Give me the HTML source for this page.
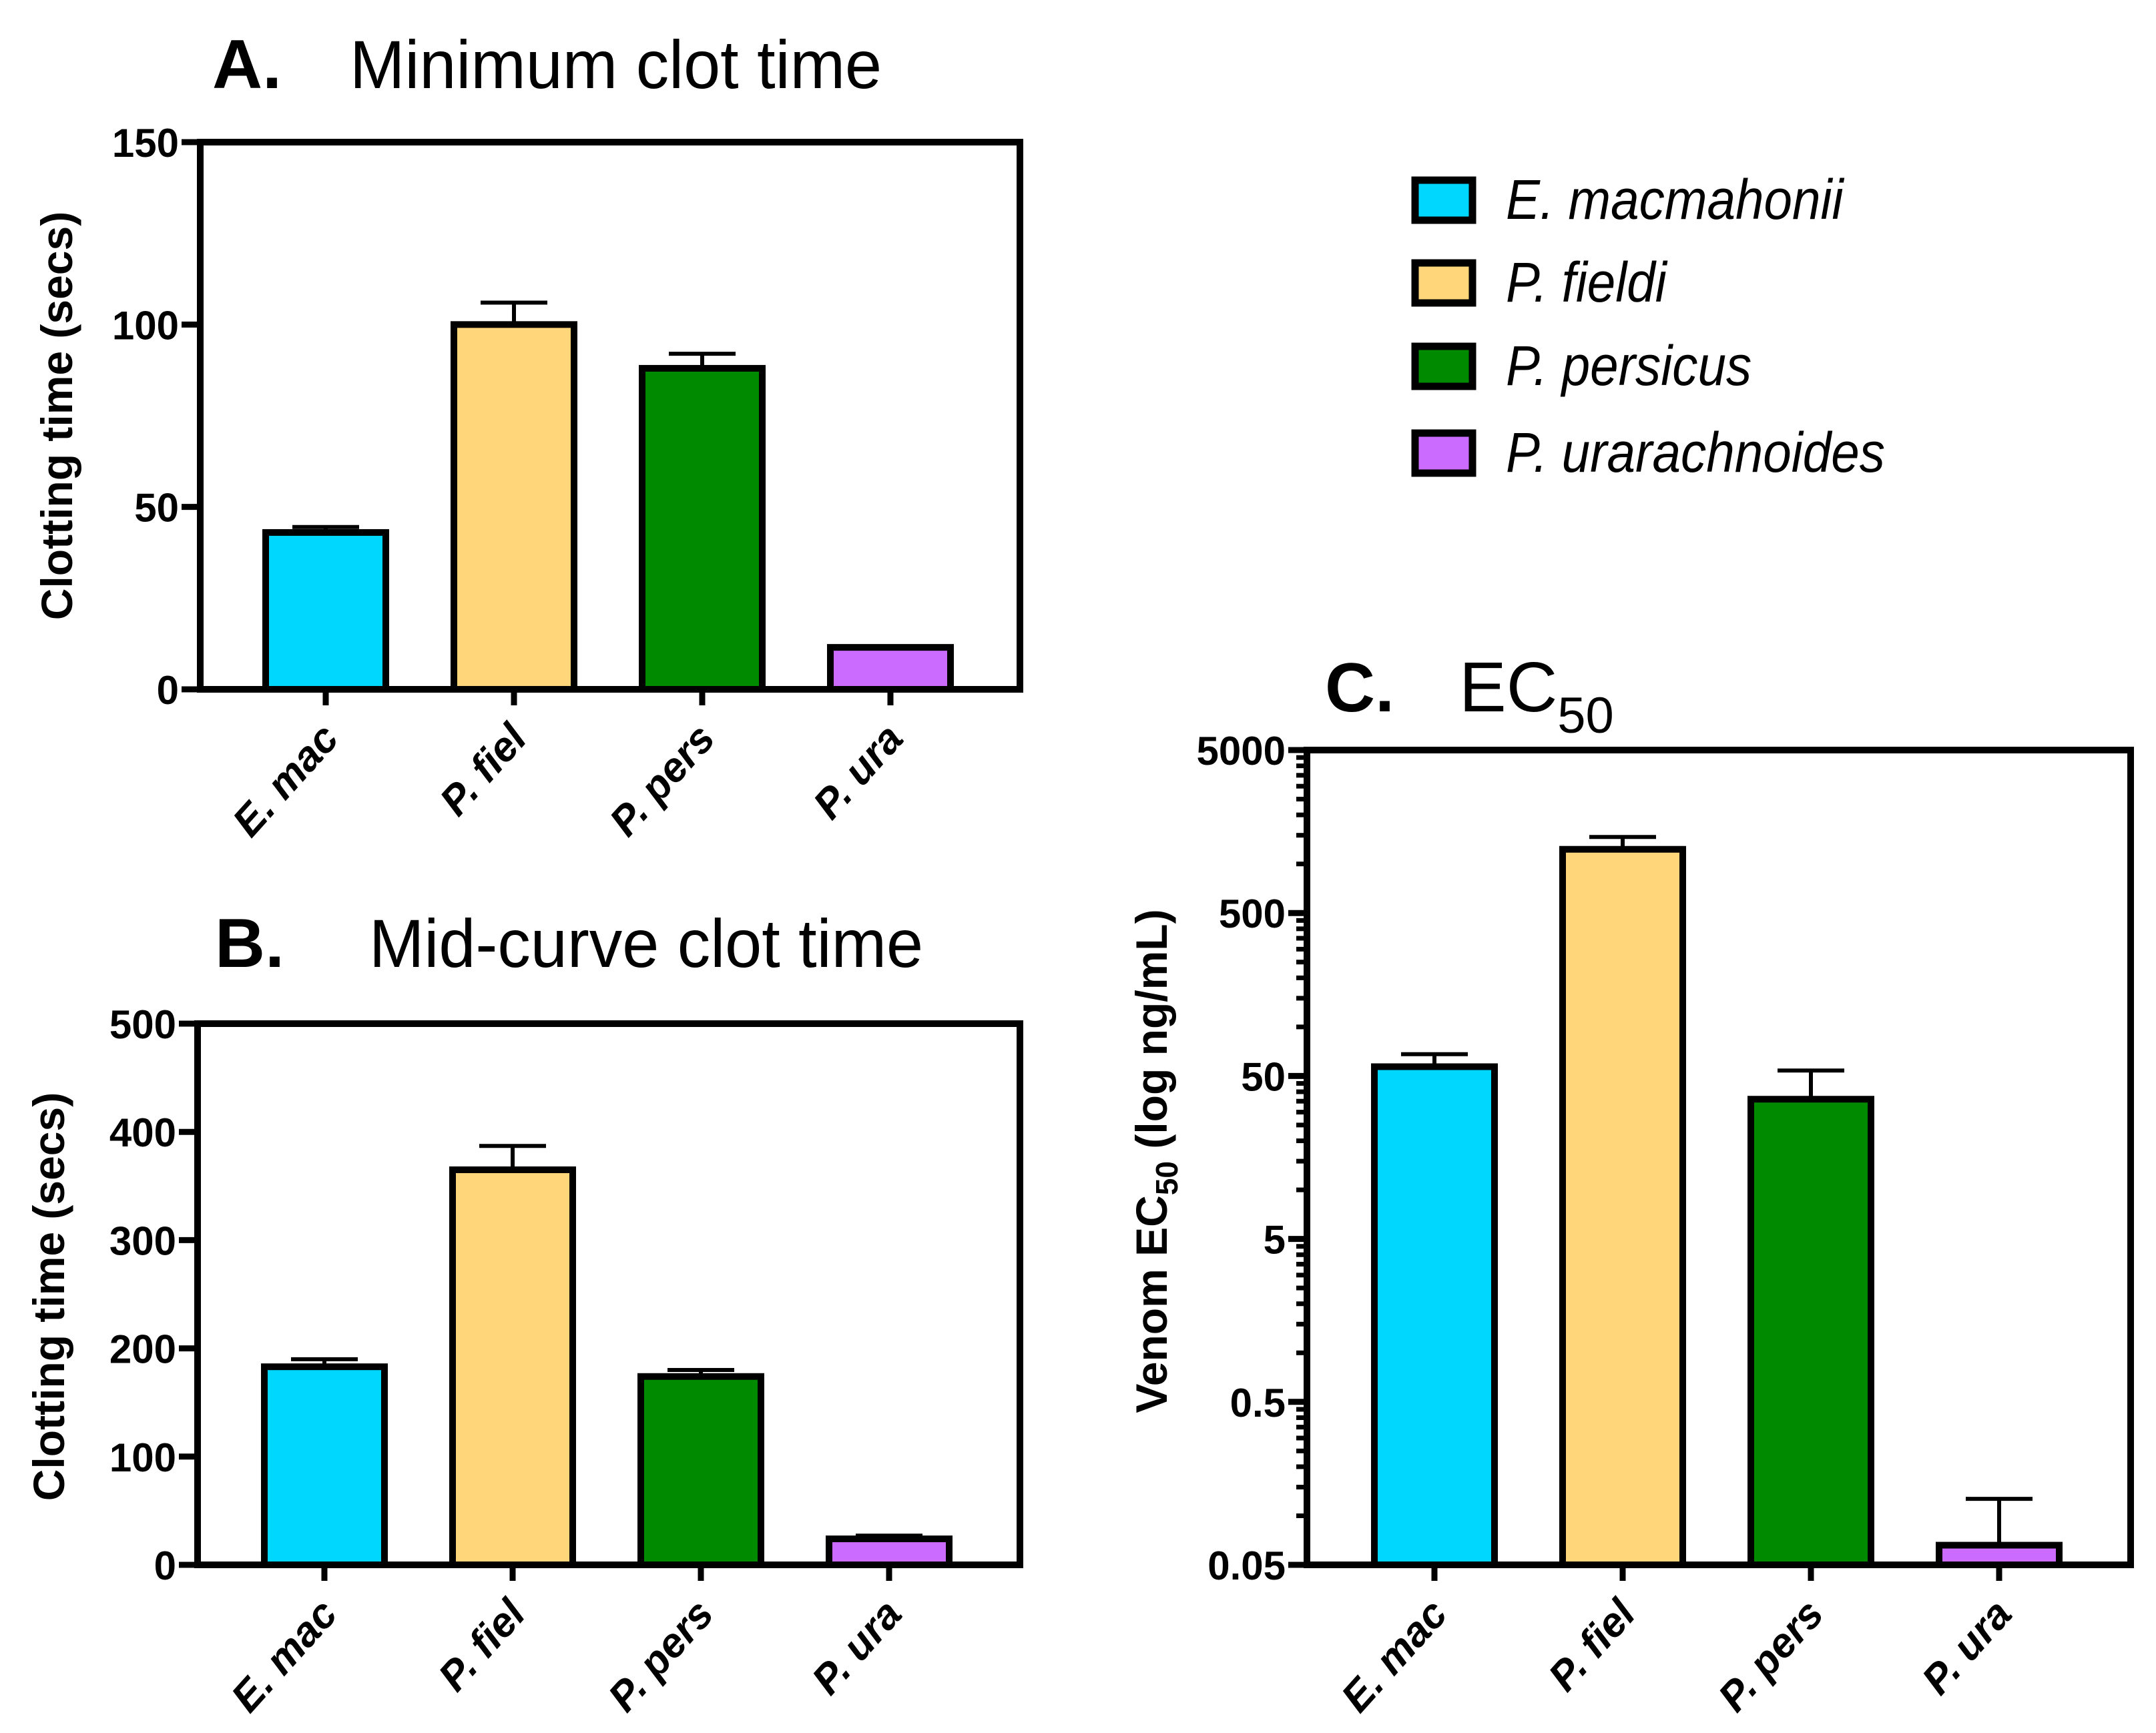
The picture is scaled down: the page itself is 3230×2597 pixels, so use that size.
<!DOCTYPE html>
<html><head><meta charset="utf-8"><style>
html,body{margin:0;padding:0;background:#fff}
svg{display:block}
text{font-family:"Liberation Sans",Arial,sans-serif}
</style></head><body>
<svg id="fig" width="3230" height="2597" viewBox="0 0 3230 2597" xmlns="http://www.w3.org/2000/svg">
<rect width="3230" height="2597" fill="#fff"/>
<g>
<text x="318" y="132" font-size="104" font-weight="bold">A.</text>
<text x="524" y="132" font-size="102" transform="translate(524,0) scale(0.97,1) translate(-524,0)">Minimum clot time</text>
</g>
<g>
<text x="322" y="1449" font-size="104" font-weight="bold">B.</text>
<text x="553" y="1449" font-size="102" transform="translate(553,0) scale(0.97,1) translate(-553,0)">Mid-curve clot time</text>
</g>
<g>
<text x="1985" y="1066" font-size="104" font-weight="bold">C.</text>
<text x="2186" y="1066" font-size="106">EC<tspan font-size="76" dy="32">50</tspan></text>
</g>
<g id="legend"></g>
<g id="pa"></g>
<g id="pb"></g>
<g id="pc"></g>
</svg>
<script>
const categories = ["E. mac", "P. fiel", "P. pers", "P. ura"];
const legendLabels = ["E. macmahonii", "P. fieldi", "P. persicus", "P. urarachnoides"];
const colors = ["#00D7FF", "#FFD679", "#008A00", "#CC6BFF"];
const minClotValues = [43, 100, 88, 11.5];
const minClotErrors = [44.5, 106, 92, 11.5];
const minClotTicks = [0, 50, 100, 150];
const midClotValues = [183, 365, 174, 24];
const midClotErrors = [190, 387, 180, 27];
const midClotTicks = [0, 100, 200, 300, 400, 500];
const ec50Values = [57, 1230, 36, 0.066];
const ec50Errors = [68, 1465, 54, 0.127];
const ec50Ticks = ["0.05", "0.5", "5", "50", "500", "5000"];

const NS = "http://www.w3.org/2000/svg";
function mk(parent, tag, attrs) {
  const e = document.createElementNS(NS, tag);
  for (const k in attrs) e.setAttribute(k, attrs[k]);
  parent.appendChild(e);
  return e;
}

function panel(g, box, yScale, ticks, tickLabel, vals, errs, log) {
  const {l, r, t, b} = box;
  const n = categories.length;
  const step = 282;
  const first = l + (r - l - step * (n - 1)) / 2 - 3;
  const bw = 180;
  for (let i = 0; i < n; i++) {
    const cx = first + step * i;
    const yv = yScale(vals[i]);
    const bar = mk(g, "rect", {x: cx - bw / 2, y: yv, width: bw, height: b - yv, fill: colors[i], stroke: "#000", "stroke-width": 10});
    
    
    const ye = yScale(errs[i]);
    if (ye < yv - 4) {
      const eb = mk(g, "path", {d: `M${cx},${yv} V${ye} M${cx - 50},${ye} H${cx + 50}`, stroke: "#000", "stroke-width": 6, fill: "none"});
      
      
    }
    mk(g, "line", {x1: cx, y1: b, x2: cx, y2: b + 24, stroke: "#000", "stroke-width": 9});
    const ax = cx + 22, ay = b + 76;
    const lab = mk(g, "text", {x: ax, y: ay, "font-size": 62, "font-weight": "bold", "font-style": "italic", "text-anchor": "end", transform: `rotate(-48 ${ax} ${ay})`});
    lab.textContent = categories[i];
    
    
  }
  const fr = mk(g, "rect", {x: l, y: t, width: r - l, height: b - t, fill: "none", stroke: "#000", "stroke-width": 10});
  
  
  ticks.forEach(tv => {
    const y = yScale(Number(tv));
    mk(g, "line", {x1: l - 28, y1: y, x2: l, y2: y, stroke: "#000", "stroke-width": 9});
    const tl = mk(g, "text", {x: l - 32, y: y + 22, "font-size": 60, "font-weight": "bold", "text-anchor": "end"});
    tl.textContent = tickLabel(tv);
    
    
  });
  if (log) {
    for (let d = 0; d < ticks.length - 1; d++) {
      const base = Number(ticks[d]);
      for (let m = 2; m <= 9; m++) {
        const y = yScale(base * m);
        if (y < t) continue;
        mk(g, "line", {x1: l - 16, y1: y, x2: l, y2: y, stroke: "#000", "stroke-width": 7});
      }
    }
  }
}

(function () {
  const box = {l: 300, r: 1528, t: 213, b: 1033};
  const ys = v => box.b - (v / 150) * (box.b - box.t);
  panel(document.getElementById("pa"), box, ys, minClotTicks, v => String(v), minClotValues, minClotErrors);
  const yt = mk(document.getElementById("pa"), "text", {x: 0, y: 0, "font-size": 66, "font-weight": "bold", "text-anchor": "middle", transform: "translate(108,623) rotate(-90)"});
  yt.textContent = "Clotting time (secs)";
  
  
})();
(function () {
  const box = {l: 296, r: 1528, t: 1534, b: 2345};
  const ys = v => box.b - (v / 500) * (box.b - box.t);
  panel(document.getElementById("pb"), box, ys, midClotTicks, v => String(v), midClotValues, midClotErrors);
  const yt = mk(document.getElementById("pb"), "text", {x: 0, y: 0, "font-size": 66, "font-weight": "bold", "text-anchor": "middle", transform: "translate(96,1943) rotate(-90)"});
  yt.textContent = "Clotting time (secs)";
  
  
})();
(function () {
  const box = {l: 1958, r: 3192, t: 1124, b: 2345};
  const lo = Math.log10(0.05), hi = Math.log10(5000);
  const ys = v => box.b - ((Math.log10(v) - lo) / (hi - lo)) * (box.b - box.t);
  panel(document.getElementById("pc"), box, ys, ec50Ticks, v => v, ec50Values, ec50Errors, true);
  const yt = mk(document.getElementById("pc"), "text", {x: 0, y: 0, "font-size": 66, "font-weight": "bold", "text-anchor": "middle", transform: "translate(1748,1740) rotate(-90)"});
  yt.innerHTML = 'Venom EC<tspan font-size="46" dy="16">50</tspan><tspan dy="-16"> (log ng/mL)</tspan>';
  
  
})();
(function () {
  const g = document.getElementById("legend");
  const rowsY = [300, 424, 549, 679];
  legendLabels.forEach((lab, i) => {
    const e = mk(g, "g", {});
    
    
    mk(e, "rect", {x: 2120, y: rowsY[i] - 30, width: 86, height: 60, fill: colors[i], stroke: "#000", "stroke-width": 11});
    const t = mk(e, "text", {x: 2256, y: rowsY[i] + 28, "font-size": 84, "font-style": "italic", transform: `translate(2256,0) scale(0.91,1) translate(-2256,0)`});
    t.textContent = lab;
  });
})();
</script>
</body></html>
